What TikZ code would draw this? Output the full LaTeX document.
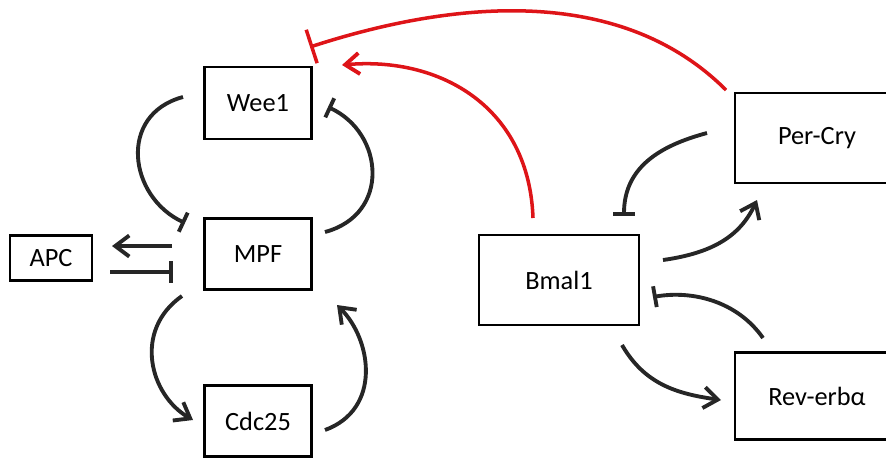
\documentclass[tikz,border=0pt]{standalone}
\usepackage{fontspec}
\setmainfont{Carlito}
\usetikzlibrary{arrows.meta}
\definecolor{inkgray}{RGB}{38,38,38}
\definecolor{inkred}{RGB}{222,20,24}
\tikzset{
  gene/.style={draw=black, line width=1.5pt, font=\fontsize{15}{18}\selectfont, inner sep=0pt},
  act/.style={draw=inkgray, line width=2.2pt, -{Straight Barb[length=8pt,width=12pt,line width=2.2pt]}},
  inh/.style={draw=inkgray, line width=2.2pt, -{Bar[width=12pt,line width=2.2pt]}}
}
\begin{document}
\begin{tikzpicture}[x=0.02cm, y=0.02cm]
    \useasboundingbox (0,0) rectangle (886,458);

    \node[gene, minimum width=2.14cm, minimum height=1.44cm] (wee1) at (258,355) {Wee1};
    \node[gene, minimum width=2.14cm, minimum height=1.42cm] (mpf) at (258,204) {MPF};
    \node[gene, minimum width=2.14cm, minimum height=1.42cm] (cdc25) at (258,37) {Cdc25};
    \node[gene, minimum width=1.64cm, minimum height=0.9cm] (apc) at (51,200) {APC};

    \node[gene, minimum width=3.2cm, minimum height=1.8cm] (bmal1) at (559,178) {Bmal1};
    \node[gene, minimum width=3.28cm, minimum height=1.8cm] (percry) at (817,320) {Per-Cry};
    \node[gene, minimum width=3.28cm, minimum height=1.74cm] (reverb) at (817,62) {Rev-erbα};

    \draw[inh] ([shift={(-75,6)}]wee1.center) .. controls +(195:68) and +(155:62) .. ([shift={(-73,31)}]mpf.center);
    \draw[inh] ([shift={(67,22)}]mpf.center) .. controls +(15:68) and +(335:62) .. ([shift={(70,-4)}]wee1.center);
    \draw[act] ([shift={(-76,-42)}]mpf.center) .. controls +(215:60) and +(150:50) .. ([shift={(-65,1)}]cdc25.center);
    \draw[act] ([shift={(67,-9)}]cdc25.center) .. controls +(20:60) and +(315:50) .. ([shift={(79,-51)}]mpf.center);

    \draw[act] ([shift={(-86,8)}]mpf.center) -- ([shift={(61,12)}]apc.center);
    \draw[inh] ([shift={(59,-14)}]apc.center) -- ([shift={(-85,-18)}]mpf.center);

    \draw[act, line width=2pt, draw=inkred] ([shift={(-26,62)}]bmal1.center) .. controls +(92:110) and +(5:100) .. ([shift={(84,38)}]wee1.center);
    \draw[line width=2pt, draw=inkred, -{Bar[width=20pt,line width=2pt]}] ([shift={(-91,48)}]percry.center) .. controls +(135:150) and +(18:150) .. ([shift={(52,56)}]wee1.center);

    \draw[inh] ([shift={(-110,5)}]percry.center) .. controls +(195:50) and +(90:48) .. ([shift={(65,64)}]bmal1.center);
    \draw[act] ([shift={(104,20)}]bmal1.center) .. controls +(8:50) and +(245:40) .. ([shift={(-60,-62)}]percry.center);
    \draw[inh] ([shift={(-54,58)}]reverb.center) .. controls +(125:45) and +(10:40) .. ([shift={(94,-17)}]bmal1.center);
    \draw[act] ([shift={(63,-65)}]bmal1.center) .. controls +(300:45) and +(172:45) .. ([shift={(-96,-4)}]reverb.center);
\end{tikzpicture}
\end{document}
